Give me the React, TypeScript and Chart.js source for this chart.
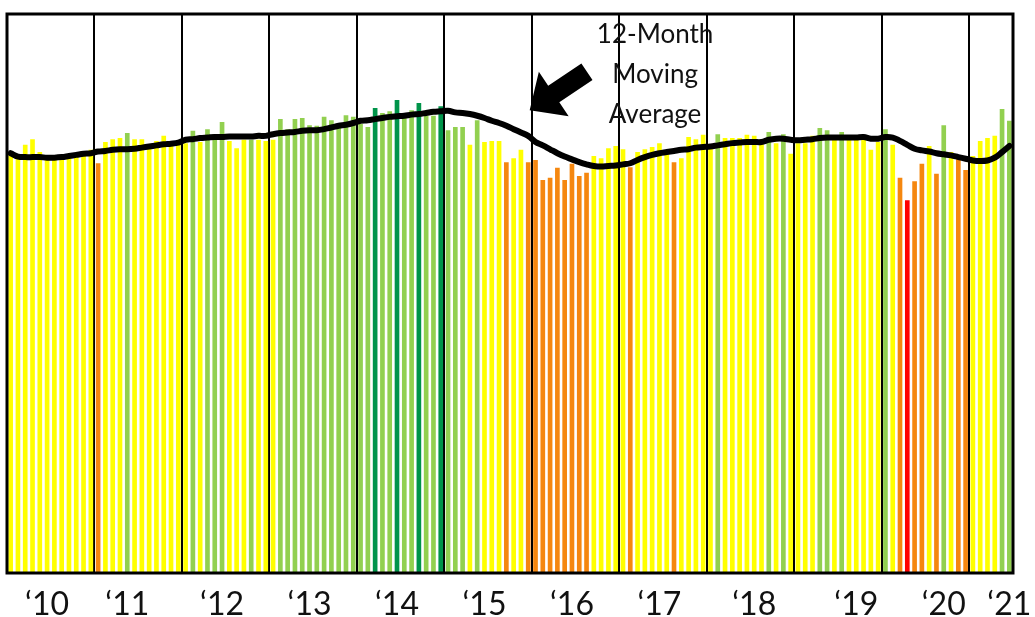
import React, { useEffect, useRef } from "react";
import { Chart, registerables } from "chart.js";

Chart.register(...registerables);

// ---------------- DATA ----------------
const years = ["2010", "2011", "2012", "2013", "2014", "2015", "2016", "2017", "2018", "2019", "2020", "2021"];
const yearLabels = ["\u201810", "\u201811", "\u201812", "\u201813", "\u201814", "\u201815", "\u201816", "\u201817", "\u201818", "\u201819", "\u201820", "\u201821"];
// month (0-based) under which each year's label sits
const labelMonth = [5, 4, 5, 5, 5, 5, 5, 5, 6, 8, 8, 5];
const monthNames = ["Jan", "Feb", "Mar", "Apr", "May", "Jun", "Jul", "Aug", "Sep", "Oct", "Nov", "Dec"];

// monthly index values
const v2010 = [75.1, 74.4, 76.6, 77.6, 75.3, 74.4, 74.4, 74.4, 74.8, 75.0, 75.3, 75.7];
const v2011 = [73.3, 77.1, 77.6, 77.8, 78.7, 77.6, 77.6, 76.4, 77.3, 78.2, 77.1, 77.3];
const v2012 = [76.9, 79.1, 77.1, 79.4, 78.5, 80.7, 77.3, 76.0, 77.5, 77.5, 77.5, 77.3];
const v2013 = [77.5, 81.2, 79.4, 81.2, 81.4, 80.1, 80.0, 81.6, 81.0, 79.6, 81.9, 81.6];
const v2014 = [80.3, 79.8, 83.2, 82.3, 82.6, 84.6, 82.3, 82.8, 84.1, 81.8, 81.8, 83.5];
const v2015 = [79.2, 79.8, 79.8, 76.6, 81.0, 77.1, 77.3, 77.3, 73.5, 74.2, 75.7, 73.5];
const v2016 = [73.9, 70.3, 70.7, 72.5, 70.3, 73.2, 71.0, 71.6, 74.6, 74.2, 76.0, 76.4];
const v2017 = [75.8, 72.6, 75.3, 75.8, 76.2, 76.9, 75.1, 73.5, 74.2, 78.0, 77.6, 78.4];
const v2018 = [76.6, 78.5, 77.8, 77.8, 77.8, 78.4, 78.2, 76.7, 78.9, 76.9, 78.5, 75.0];
const v2019 = [76.9, 76.9, 78.2, 79.6, 79.2, 77.5, 78.9, 77.5, 77.5, 77.5, 75.7, 77.1];
const v2020 = [79.4, 76.6, 70.7, 66.7, 70.1, 73.2, 76.4, 71.4, 80.1, 75.3, 74.1, 72.1];
const v2021 = [74.6, 77.3, 77.8, 78.2, 83.0, 80.9];

// 12-month moving average
const ma2010 = [75.1, 74.5, 74.4, 74.4, 74.4, 74.3, 74.3, 74.4, 74.6, 74.8, 75.0, 75.1];
const ma2011 = [75.4, 75.5, 75.7, 75.8, 75.8, 75.9, 76.1, 76.3, 76.5, 76.7, 76.8, 77.0];
const ma2012 = [77.5, 77.6, 77.8, 77.9, 78.0, 78.0, 78.1, 78.1, 78.1, 78.1, 78.2, 78.2];
const ma2013 = [78.5, 78.7, 78.8, 78.9, 79.1, 79.2, 79.2, 79.4, 79.7, 80.0, 80.2, 80.5];
const ma2014 = [80.9, 81.0, 81.2, 81.4, 81.6, 81.7, 81.8, 82.0, 82.1, 82.3, 82.5, 82.6];
const ma2015 = [82.7, 82.4, 82.3, 82.1, 81.8, 81.4, 80.9, 80.5, 80.0, 79.4, 78.8, 78.2];
const ma2016 = [77.1, 76.5, 75.8, 75.1, 74.5, 74.0, 73.5, 73.1, 72.8, 72.7, 72.8, 72.9];
const ma2017 = [73.1, 73.3, 73.9, 74.4, 74.8, 75.1, 75.3, 75.5, 75.7, 75.8, 76.1, 76.2];
const ma2018 = [76.3, 76.5, 76.7, 76.9, 77.0, 77.1, 77.1, 77.1, 77.5, 77.7, 77.7, 77.5];
const ma2019 = [77.4, 77.5, 77.6, 77.8, 77.9, 77.9, 77.9, 77.9, 77.9, 78.0, 77.7, 77.7];
const ma2020 = [78.0, 77.9, 77.3, 76.6, 75.9, 75.6, 75.4, 75.1, 74.9, 74.7, 74.4, 74.1];
const ma2021 = [73.8, 73.7, 73.8, 74.3, 75.3, 76.4];

// tier of each month: 1 = worst ... 5 = best
const t2010 = [3, 3, 3, 3, 3, 3, 3, 3, 3, 3, 3, 3];
const t2011 = [2, 3, 3, 3, 4, 3, 3, 3, 3, 3, 3, 3];
const t2012 = [3, 4, 3, 4, 4, 4, 3, 3, 3, 4, 3, 3];
const t2013 = [3, 4, 4, 4, 4, 4, 4, 4, 4, 4, 4, 4];
const t2014 = [4, 4, 5, 4, 4, 5, 4, 4, 5, 4, 4, 5];
const t2015 = [4, 4, 4, 3, 4, 3, 3, 3, 2, 3, 3, 2];
const t2016 = [2, 2, 2, 2, 2, 2, 2, 2, 3, 3, 3, 3];
const t2017 = [3, 2, 3, 3, 3, 3, 3, 2, 3, 3, 3, 3];
const t2018 = [3, 4, 3, 3, 3, 3, 3, 3, 4, 3, 4, 3];
const t2019 = [3, 3, 3, 4, 4, 3, 4, 3, 3, 3, 3, 3];
const t2020 = [4, 3, 2, 1, 2, 2, 3, 2, 4, 3, 2, 2];
const t2021 = [3, 3, 3, 3, 4, 4];

const annotationLines = ["12-Month", "Moving", "Average"];

// ---------------- BUILD ----------------
const valuesByYear = [v2010, v2011, v2012, v2013, v2014, v2015, v2016, v2017, v2018, v2019, v2020, v2021];
const maByYear = [ma2010, ma2011, ma2012, ma2013, ma2014, ma2015, ma2016, ma2017, ma2018, ma2019, ma2020, ma2021];
const tiersByYear = [t2010, t2011, t2012, t2013, t2014, t2015, t2016, t2017, t2018, t2019, t2020, t2021];

const categories: string[] = [];
const yearStart: number[] = [];
valuesByYear.forEach((arr, yi) => {
  yearStart.push(categories.length);
  arr.forEach((_, m) => categories.push(`${monthNames[m]} ${years[yi]}`));
});
const values = valuesByYear.flat();
const movingAvg = maByYear.flat();
const tiers = tiersByYear.flat();

const tierColors: Record<number, string> = {
  1: "#FF0000",
  2: "#F5870F",
  3: "#FFFF00",
  4: "#92D050",
  5: "#00944A",
};

const FONT = "Lato, 'Open Sans', 'DejaVu Sans', sans-serif";

const framePlugin = {
  id: "frameAndNote",
  afterDatasetsDraw(chart: any) {
    const { ctx, chartArea: a, scales } = chart;
    const xs = scales.x;
    const ys = scales.y;
    ctx.save();
    // frame
    ctx.strokeStyle = "#000";
    ctx.lineWidth = 3;
    ctx.strokeRect(a.left, a.top, a.right - a.left, a.bottom - a.top);

    // annotation text
    ctx.fillStyle = "#111";
    ctx.font = `26px ${FONT}`;
    ctx.textAlign = "center";
    ctx.textBaseline = "alphabetic";
    const tx = xs.getPixelForValue(88.4);
    const baseVals = [94.8, 87.7, 80.5];
    annotationLines.forEach((t, i) => {
      ctx.fillText(t, tx, ys.getPixelForValue(baseVals[i]));
    });

    // arrow
    const tipX = xs.getPixelForValue(71.2);
    const tipY = ys.getPixelForValue(82.8);
    const ux = 0.83, uy = -0.556;
    const nx = 0.556, ny = 0.83;
    const pt = (along: number, side: number) => [tipX + ux * along + nx * side, tipY + uy * along + ny * side];
    const pts = [pt(0, 0), pt(29, 26.8), pt(29, 10), pt(69, 10), pt(69, -10), pt(29, -10), pt(29, -26.8)];
    ctx.fillStyle = "#000";
    ctx.beginPath();
    pts.forEach(([px, py], i) => (i === 0 ? ctx.moveTo(px, py) : ctx.lineTo(px, py)));
    ctx.closePath();
    ctx.fill();
    ctx.restore();
  },
};

export default function App() {
  const ref = useRef<HTMLCanvasElement | null>(null);

  useEffect(() => {
    if (!ref.current) return;
    const chart = new Chart(ref.current, {
      type: "bar",
      data: {
        labels: categories,
        datasets: [
          {
            type: "line",
            label: "12-Month Moving Average",
            data: movingAvg,
            borderColor: "#000",
            borderWidth: 6,
            pointRadius: 0,
            tension: 0.4,
            borderCapStyle: "round",
            borderJoinStyle: "round",
            fill: false,
            order: 0,
          } as any,
          {
            type: "bar",
            label: "Monthly",
            data: values,
            backgroundColor: tiers.map((t) => tierColors[t]),
            borderWidth: 0,
            barPercentage: 0.64,
            categoryPercentage: 1,
            order: 1,
          } as any,
        ],
      },
      options: {
        responsive: false,
        devicePixelRatio: 1,
        animation: false,
        layout: { padding: { left: 7, right: 22, top: 14, bottom: 0 } },
        plugins: {
          legend: { display: false },
          tooltip: { enabled: false },
        },
        scales: {
          x: {
            offset: true,
            afterFit: (s: any) => {
              s.height = 44;
              s.paddingLeft = 0;
              s.paddingRight = 0;
            },
            border: { display: false },
            grid: {
              offset: true,
              drawTicks: false,
              lineWidth: 2,
              color: (c: any) => (c.index > 0 && c.index % 12 === 0 ? "#000" : "rgba(0,0,0,0)"),
            },
            ticks: {
              autoSkip: false,
              maxRotation: 0,
              minRotation: 0,
              padding: 12,
              color: "#111",
              font: { family: FONT, size: 32 },
              callback: (_v: any, index: number) => {
                const yi = yearStart.findIndex((s, i) => s + labelMonth[i] === index);
                return yi >= 0 ? yearLabels[yi] : "";
              },
            },
          },
          y: {
            display: false,
            min: 0,
            max: 100,
          },
        },
      },
      plugins: [framePlugin],
    });
    return () => chart.destroy();
  }, []);

  return (
    <div style={{ position: "fixed", left: 0, top: 0, width: 1035, height: 617, background: "#fff" }}>
      <canvas ref={ref} width={1035} height={617} style={{ display: "block" }} />
    </div>
  );
}
